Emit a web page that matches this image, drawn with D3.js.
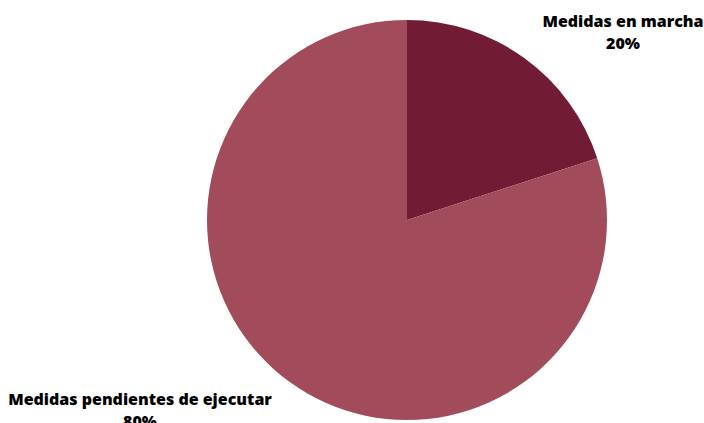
<!DOCTYPE html>
<html>
<head>
<meta charset="utf-8">
<script src="https://cdn.jsdelivr.net/npm/d3@7"></script>
<style>
  body { margin: 0; background: #fff; }
  text { font-family: "Open Sans", sans-serif; font-weight: 800; fill: #000; }
</style>
</head>
<body>
<svg id="chart" width="704" height="423"></svg>
<script>
var categories = ["Medidas en marcha", "Medidas pendientes de ejecutar"];
var values = [20, 80];
var colors = ["#711b34", "#a24b5b"];

var width = 704, height = 423;
var cx = 407, cy = 220, radius = 200;

var svg = d3.select("#chart");
var g = svg.append("g").attr("transform", "translate(" + cx + "," + cy + ")");

var pie = d3.pie().sort(null).value(function(d) { return d; });
var arc = d3.arc().innerRadius(0).outerRadius(radius);
var color = d3.scaleOrdinal().domain(categories).range(colors);

var arcs = pie(values);

g.selectAll("path.slice")
    .data(arcs)
    .enter().append("path")
    .attr("class", "slice")
    .attr("d", arc)
    .attr("fill", function(d, i) { return color(categories[i]); });

// label spots, placed by hand like the original
var labelPos = [[623, 27], [140, 405]];

var labels = svg.selectAll("g.label")
    .data(arcs)
    .enter().append("g")
    .attr("class", "label")
    .attr("transform", function(d, i) { return "translate(" + labelPos[i][0] + "," + labelPos[i][1] + ")"; });

labels.append("text")
    .attr("text-anchor", "middle")
    .style("font-size", "16px")
    .text(function(d, i) { return categories[i]; });

labels.append("text")
    .attr("text-anchor", "middle")
    .attr("y", 22)
    .style("font-size", "16px")
    .text(function(d) { return d.data + "%"; });
</script>
</body>
</html>
